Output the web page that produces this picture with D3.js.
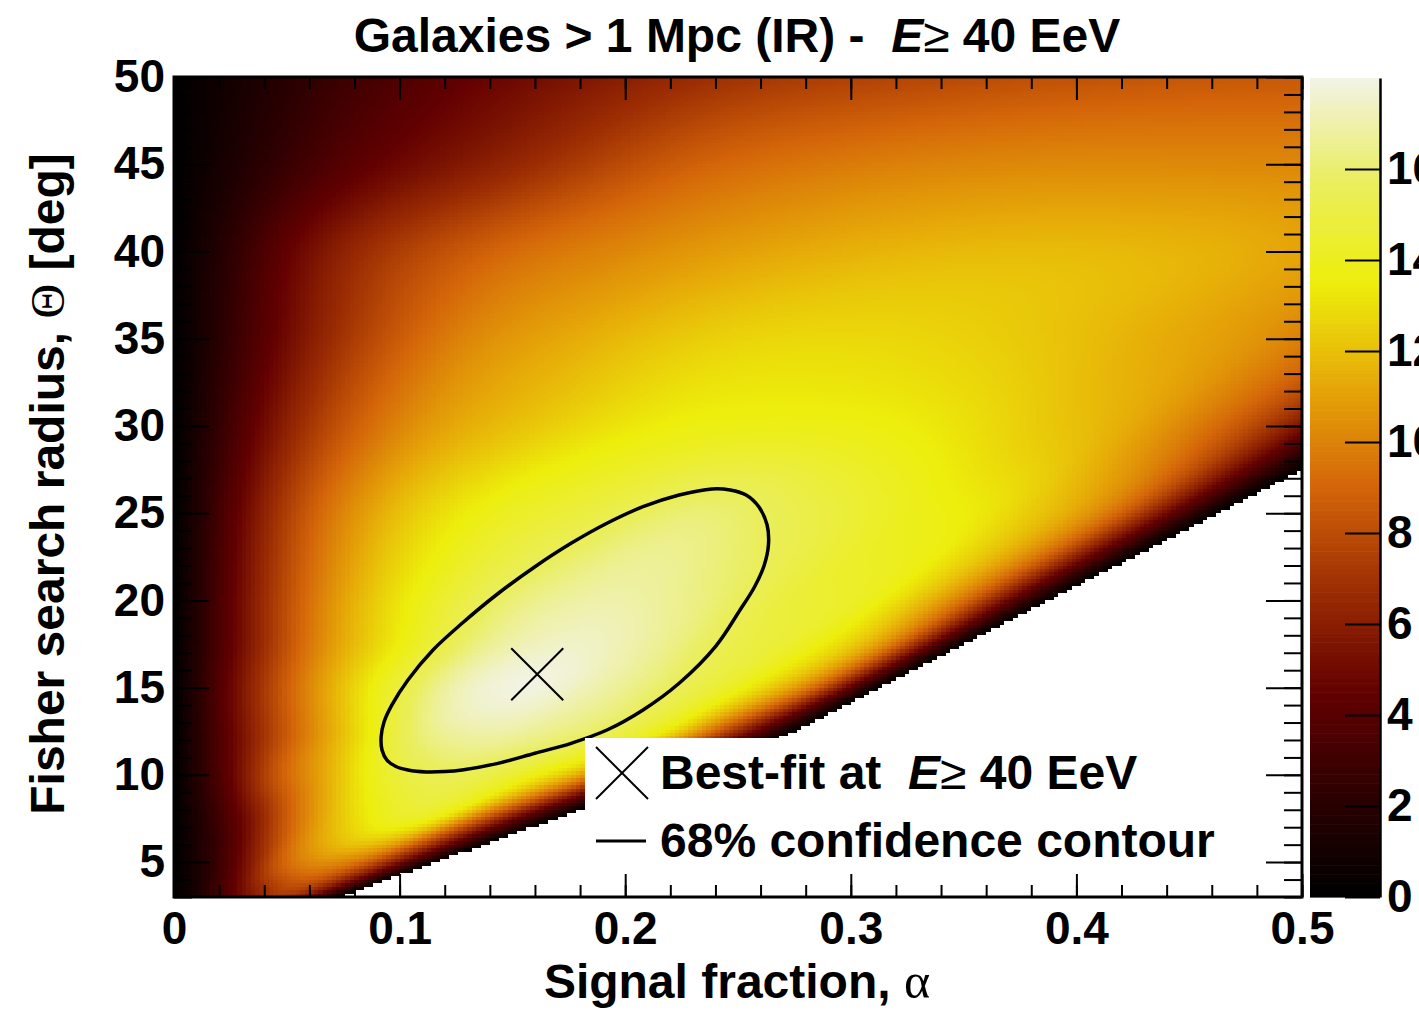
<!DOCTYPE html>
<meta charset="utf-8">
<style>
body { margin: 0; background: #fff; }
svg text { font-family: "Liberation Sans", Arial, Helvetica, sans-serif; font-weight: bold; fill: #000; }
.tick text { font-size: 46px; }
.big { font-size: 48px; white-space: pre; }
.sym { font-family: "Liberation Serif", "DejaVu Serif", serif; font-weight: normal; }
</style>
<body>
<svg id="chart" width="1419" height="1013"></svg>
<script src="https://d3js.org/d3.v7.min.js"></script>
<script>
// TS map. Columns are the position across the allowed
// strip at each radius (alpha / alphaEdge), rows are the search radius.
var uCols = [0, 0.1, 0.2, 0.3, 0.4, 0.5, 0.6, 0.7, 0.8, 0.9, 1.0];
var thetaRows = [3, 5, 7.5, 10, 12.5, 15, 17.5, 20, 25, 30, 35, 40, 45, 50];
var ts03  = [0, 0.8, 2.2, 3.5, 4.8, 6.0, 7.0, 6.8, 5.3, 3.0, 0];
var ts05  = [0, 1.5, 3.5, 6.0, 8.6, 10.0, 10.3, 9.4, 7.1, 3.8, 0];
var ts075 = [0, 2.5, 5.5, 8.8, 11.5, 13.3, 14.2, 13.0, 8.8, 4.3, 0];
var ts10  = [0, 4.0, 8.3, 11.3, 14.0, 15.4, 15.3, 14.0, 11.3, 6.0, 0];
var ts125 = [0, 5.0, 9.3, 13.0, 16.2, 17.0, 16.5, 15.5, 13.0, 7.0, 0];
var ts15  = [0, 5.8, 10.5, 14.2, 17.1, 17.9, 17.0, 15.7, 13.8, 9.5, 0];
var ts175 = [0, 6.0, 10.8, 14.0, 16.6, 17.5, 16.8, 15.3, 14.0, 10.3, 0];
var ts20  = [0, 6.5, 11.3, 14.3, 16.3, 17.0, 16.3, 14.8, 13.8, 9.5, 0];
var ts25  = [0, 7.0, 11.5, 13.8, 15.0, 16.1, 15.2, 14.0, 12.8, 9.3, 0];
var ts30  = [0, 6.5, 10.5, 12.3, 13.5, 13.8, 13.5, 12.5, 11.0, 7.3, 0];
var ts35  = [0, 6.0, 9.8, 11.5, 12.6, 12.8, 12.4, 11.5, 10.2, 7.0, 0];
var ts40  = [0, 5.8, 8.8, 10.3, 11.3, 11.8, 11.8, 11.3, 10.0, 7.0, 0];
var ts45  = [0, 4.0, 6.5, 8.8, 9.8, 10.2, 10.2, 10.0, 9.0, 6.0, 0];
var ts50  = [0, 3.2, 5.3, 7.0, 7.8, 8.3, 8.5, 8.5, 7.5, 5.0, 0];
var tsRows = [ts03, ts05, ts075, ts10, ts125, ts15, ts175, ts20, ts25, ts30, ts35, ts40, ts45, ts50];

// edge of the allowed region (white beyond it)
var edgeTheta = [3, 12.2, 27.5, 50];
var edgeAlpha = [0.073, 0.271, 0.500, 0.843];

// 68% confidence contour
var contourAlpha = [0.0918, 0.0922, 0.0944, 0.0984, 0.1037, 0.1117, 0.1201, 0.1277, 0.1436, 0.1600,
                    0.1760, 0.1919, 0.2079, 0.2239, 0.2400, 0.2509, 0.2573, 0.2615, 0.2635, 0.2629,
                    0.2593, 0.2536, 0.2465, 0.2385, 0.2239, 0.2079, 0.1919, 0.1760, 0.1600, 0.1438,
                    0.1277, 0.1148, 0.1037, 0.0966, 0.0931];
var contourTheta = [12.17, 11.43, 10.85, 10.48, 10.28, 10.17, 10.19, 10.28, 10.66, 11.24,
                    11.81, 12.57, 13.72, 15.25, 17.35, 19.45, 20.77, 21.97, 23.18, 24.32,
                    25.35, 26.04, 26.33, 26.39, 26.04, 25.37, 24.42, 23.27, 21.93, 20.41,
                    18.69, 17.16, 15.44, 14.01, 13.03];

var bestAlpha = 0.161, bestTheta = 15.77;

var xMajor = [0, 0.1, 0.2, 0.3, 0.4, 0.5];
var yMajor = [5, 10, 15, 20, 25, 30, 35, 40, 45, 50];
var zTicks = [0, 2, 4, 6, 8, 10, 12, 14, 16];
var zMax = 18;
// dark body radiator palette
var paletteStops = ['#000000', '#2d0001', '#630001', '#9c2d03', '#d46509', '#e6a808', '#edee0b', '#eaee5f', '#f2f3e6'];

var svg = d3.select('#chart');
var x = d3.scaleLinear().domain([0, 0.5]).range([174, 1302]);
var y = d3.scaleLinear().domain([3, 50]).range([897, 77]);
var z = d3.scaleLinear().domain([0, zMax]).range([897, 78]);
var color = d3.scaleLinear()
    .domain(paletteStops.map(function(d, i) { return i * zMax / (paletteStops.length - 1); }))
    .range(paletteStops).clamp(true);
var edge = d3.scaleLinear().domain(edgeTheta).range(edgeAlpha);

// smooth (hermite) lookup between read values
function cubicAt(xs, ys, v) {
  var n = xs.length;
  var k = Math.max(0, Math.min(n - 2, d3.bisectRight(xs, v) - 1));
  var h = xs[k + 1] - xs[k], s = (v - xs[k]) / h;
  function slope(i) {
    var a = Math.max(0, i - 1), b = Math.min(n - 1, i + 1);
    return (ys[b] - ys[a]) / (xs[b] - xs[a]);
  }
  var m0 = slope(k) * h, m1 = slope(k + 1) * h, s2 = s * s, s3 = s2 * s;
  return (2*s3 - 3*s2 + 1) * ys[k] + (s3 - 2*s2 + s) * m0 + (-2*s3 + 3*s2) * ys[k + 1] + (s3 - s2) * m1;
}
function tsAt(u, t) {
  var col = tsRows.map(function(row) { return cubicAt(uCols, row, u); });
  return Math.max(0, Math.min(zMax, cubicAt(thetaRows, col, t)));
}

// heat map, drawn bin by bin on a canvas then put into the svg
var nx = 250, ny = 235, da = 0.5 / nx, dt = 47 / ny;
var canvas = document.createElement('canvas');
canvas.width = 1128; canvas.height = 820;
var ctx = canvas.getContext('2d');
for (var i = 0; i < nx; i++) {
  for (var j = 0; j < ny; j++) {
    var a0 = i * da, t0 = 3 + j * dt;
    var ac = a0 + da / 2, tc = t0 + dt / 2;
    var am = edge(tc);
    if (ac > am) continue;
    ctx.fillStyle = color(tsAt(ac / am, tc));
    var X0 = Math.round(x(a0)) - 174, X1 = Math.round(x(a0 + da)) - 174;
    var Y0 = Math.round(y(t0 + dt)) - 77, Y1 = Math.round(y(t0)) - 77;
    ctx.fillRect(X0, Y0, X1 - X0, Y1 - Y0);
  }
}
svg.append('image')
  .attr('x', 174).attr('y', 77).attr('width', 1128).attr('height', 820)
  .attr('href', canvas.toDataURL());

// colour bar
var zSteps = d3.range(0, zMax, 0.1);
svg.append('g').selectAll('rect').data(zSteps).join('rect')
  .attr('x', 1310).attr('width', 70)
  .attr('y', function(d) { return z(d + 0.1); })
  .attr('height', function(d) { return z(d) - z(d + 0.1) + 0.6; })
  .attr('fill', function(d) { return color(d + 0.05); });

function noDomain(g) { g.select('.domain').remove(); }
function ticks(g, w) { g.selectAll('line').attr('stroke-width', w); g.attr('font-family', null).attr('font-size', null); }

// axes of the frame
svg.append('g').attr('transform', 'translate(0,897)')
  .call(d3.axisBottom(x).tickValues(xMajor).tickSizeInner(-23).tickSizeOuter(0).tickPadding(14).tickFormat(d3.format('')))
  .call(noDomain).call(ticks, 2);
svg.append('g').attr('transform', 'translate(0,897)')
  .call(d3.axisBottom(x).tickValues(d3.range(0, 0.501, 0.02)).tickSizeInner(-12).tickSizeOuter(0).tickFormat(''))
  .call(noDomain).call(ticks, 2);
svg.append('g').attr('transform', 'translate(0,77)')
  .call(d3.axisTop(x).tickValues(xMajor).tickSizeInner(-23).tickSizeOuter(0).tickFormat(''))
  .call(noDomain).call(ticks, 2);
svg.append('g').attr('transform', 'translate(0,77)')
  .call(d3.axisTop(x).tickValues(d3.range(0, 0.501, 0.02)).tickSizeInner(-12).tickSizeOuter(0).tickFormat(''))
  .call(noDomain).call(ticks, 2);

svg.append('g').attr('transform', 'translate(174,0)')
  .call(d3.axisLeft(y).tickValues(yMajor).tickSizeInner(-36).tickSizeOuter(0).tickPadding(9).tickFormat(d3.format('d')))
  .call(noDomain).call(ticks, 2);
svg.append('g').attr('transform', 'translate(174,0)')
  .call(d3.axisLeft(y).tickValues(d3.range(3, 50.5, 1)).tickSizeInner(-18).tickSizeOuter(0).tickFormat(''))
  .call(noDomain).call(ticks, 2);
svg.append('g').attr('transform', 'translate(1302,0)')
  .call(d3.axisRight(y).tickValues(yMajor).tickSizeInner(-36).tickSizeOuter(0).tickFormat(''))
  .call(noDomain).call(ticks, 2);
svg.append('g').attr('transform', 'translate(1302,0)')
  .call(d3.axisRight(y).tickValues(d3.range(3, 50.5, 1)).tickSizeInner(-18).tickSizeOuter(0).tickFormat(''))
  .call(noDomain).call(ticks, 2);

svg.append('rect')
  .attr('x', 174).attr('y', 77).attr('width', 1128).attr('height', 820)
  .attr('fill', 'none').attr('stroke', '#000').attr('stroke-width', 3);

// colour bar axis
svg.append('g').attr('transform', 'translate(1380,0)')
  .call(d3.axisRight(z).tickValues(zTicks).tickSizeInner(-35).tickSizeOuter(0).tickPadding(7))
  .call(ticks, 2)
  .select('.domain').attr('stroke-width', 2.5);

// contour and best fit
var contourPts = contourAlpha.map(function(a, i) { return [a, contourTheta[i]]; });
svg.append('path')
  .datum(contourPts)
  .attr('fill', 'none').attr('stroke', '#000').attr('stroke-width', 3.5)
  .attr('d', d3.line()
    .x(function(d) { return x(d[0]); })
    .y(function(d) { return y(d[1]); })
    .curve(d3.curveCatmullRomClosed));

function cross(g, cx, cy, r) {
  g.append('line').attr('x1', cx - r).attr('y1', cy - r).attr('x2', cx + r).attr('y2', cy + r);
  g.append('line').attr('x1', cx - r).attr('y1', cy + r).attr('x2', cx + r).attr('y2', cy - r);
}
var bf = svg.append('g').attr('stroke', '#000').attr('stroke-width', 2);
cross(bf, x(bestAlpha), y(bestTheta), 26);

// legend
svg.append('rect').attr('x', 585).attr('y', 738).attr('width', 655).attr('height', 134).attr('fill', '#fff');
var lg = svg.append('g').attr('stroke', '#000').attr('stroke-width', 2);
cross(lg, 622, 773, 26);
lg.append('line').attr('x1', 596).attr('y1', 841).attr('x2', 646).attr('y2', 841).attr('stroke-width', 3);

var l1 = svg.append('text').attr('class', 'big').attr('x', 660).attr('y', 789);
l1.append('tspan').text('Best-fit at  ');
l1.append('tspan').attr('font-style', 'italic').text('E');
l1.append('tspan').attr('font-weight', 'normal').text('\u2265');
l1.append('tspan').text(' 40 EeV');
svg.append('text').attr('class', 'big').attr('x', 660).attr('y', 857).text('68% confidence contour');

// titles
var tt = svg.append('text').attr('class', 'big').attr('x', 737).attr('y', 52).attr('text-anchor', 'middle');
tt.append('tspan').text('Galaxies > 1 Mpc (IR) -  ');
tt.append('tspan').attr('font-style', 'italic').text('E');
tt.append('tspan').attr('font-weight', 'normal').text('\u2265');
tt.append('tspan').text(' 40 EeV');

var xt = svg.append('text').attr('class', 'big').attr('x', 737).attr('y', 998).attr('text-anchor', 'middle');
xt.append('tspan').text('Signal fraction, ');
xt.append('tspan').attr('class', 'sym').attr('font-size', '50px').text('\u03b1');

var yt = svg.append('text').attr('class', 'big').attr('text-anchor', 'middle')
  .attr('transform', 'translate(64,484) rotate(-90)');
yt.append('tspan').text('Fisher search radius, ');
yt.append('tspan').attr('class', 'sym').text('\u0398');
yt.append('tspan').text(' [deg]');
</script>
</body>
